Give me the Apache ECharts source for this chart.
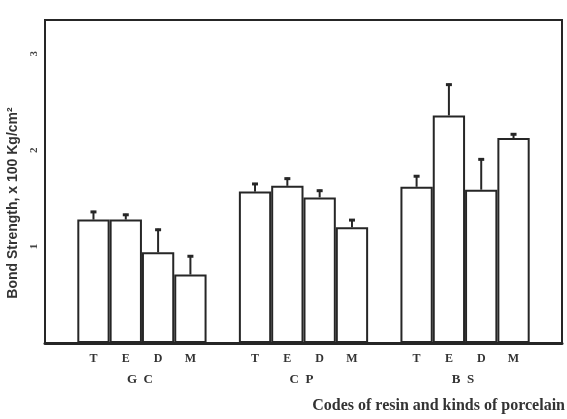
<!DOCTYPE html>
<html>
<head>
<meta charset="utf-8">
<script src="https://cdn.jsdelivr.net/npm/echarts@6/dist/echarts.min.js"></script>
<style>
  html, body { margin: 0; padding: 0; background: #fff; }
  #main { width: 567px; height: 419px; }
</style>
</head>
<body>
<div id="main"></div>
<script>
// resin codes and porcelain groups
const codes = ['T', 'E', 'D', 'M'];
const groups = ['G  C', 'C  P', 'B  S'];

// bond strength, x 100 Kg/cm2 (mean and upper error)
const gcMeans = [1.28, 1.28, 0.94, 0.71];
const gcErrors = [0.09, 0.06, 0.245, 0.2];
const cpMeans = [1.57, 1.63, 1.51, 1.2];
const cpErrors = [0.09, 0.085, 0.08, 0.085];
const bsMeans = [1.62, 2.36, 1.59, 2.125];
const bsErrors = [0.12, 0.33, 0.325, 0.05];

const yTicks = [1, 2, 3];
const yMax = 3.35;

const xName = 'Codes of resin and kinds of porcelain';
const yName = 'Bond Strength, x 100 Kg/cm\u00B2';

// one empty slot before, between and after the groups
const means = [gcMeans, cpMeans, bsMeans];
const errors = [gcErrors, cpErrors, bsErrors];
const slots = [''];
const barData = [null];
const errData = [];
means.forEach((g, gi) => {
  g.forEach((v, i) => {
    errData.push([slots.length, v, v + errors[gi][i]]);
    slots.push(codes[i]);
    barData.push(v);
  });
  slots.push('');
  barData.push(null);
});

const ink = '#262626';
const chart = echarts.init(document.getElementById('main'));

chart.setOption({
  animation: false,
  backgroundColor: '#fff',
  grid: {
    left: 45, right: 5, top: 20, bottom: 76,
    show: true, borderColor: ink, borderWidth: 2
  },
  xAxis: {
    type: 'category',
    data: slots,
    axisLine: { lineStyle: { color: ink, width: 3 } },
    axisTick: { show: false },
    axisLabel: {
      interval: 0, margin: 10, color: '#333',
      fontFamily: 'Liberation Serif', fontWeight: 'bold', fontSize: 12
    }
  },
  yAxis: {
    type: 'value',
    min: 0, max: yMax, interval: 1,
    splitLine: { show: false },
    axisTick: { show: false },
    axisLine: { show: true, lineStyle: { color: ink, width: 2 } },
    axisLabel: {
      rotate: 90, margin: 5, color: '#444',
      fontFamily: 'Liberation Serif', fontWeight: 'bold', fontSize: 11,
      formatter: v => yTicks.includes(v) ? String(v) : ''
    }
  },
  series: [
    {
      type: 'bar',
      data: barData,
      barCategoryGap: 0,
      itemStyle: { color: '#fff', borderColor: ink, borderWidth: 2 }
    },
    {
      type: 'custom',
      data: errData,
      z: 5,
      renderItem: (params, api) => {
        const base = api.coord([api.value(0), api.value(1)]);
        const top = api.coord([api.value(0), api.value(2)]);
        return {
          type: 'group',
          children: [
            { type: 'line', shape: { x1: base[0], y1: base[1], x2: top[0], y2: top[1] },
              style: { stroke: ink, lineWidth: 2 } },
            { type: 'line', shape: { x1: top[0] - 3, y1: top[1] + 1, x2: top[0] + 3, y2: top[1] + 1 },
              style: { stroke: ink, lineWidth: 3 } }
          ]
        };
      }
    }
  ]
});

// group labels under each block of four bars, axis names
const groupTexts = groups.map((g, gi) => {
  const a = chart.convertToPixel({ xAxisIndex: 0 }, 1 + gi * 5);
  const b = chart.convertToPixel({ xAxisIndex: 0 }, 4 + gi * 5);
  return {
    type: 'text', x: (a + b) / 2 - 2, y: 380,
    style: {
      text: g, textAlign: 'center', textVerticalAlign: 'middle',
      fill: '#333', font: 'bold 13px "Liberation Serif"'
    }
  };
});

chart.setOption({
  graphic: groupTexts.concat([
    {
      type: 'text', x: 565, y: 406,
      style: {
        text: xName, textAlign: 'right', textVerticalAlign: 'middle',
        fill: '#333', font: 'bold 16px "Liberation Serif"'
      }
    },
    {
      type: 'text', x: 13, y: 203, rotation: Math.PI / 2,
      style: {
        text: yName, textAlign: 'center', textVerticalAlign: 'middle',
        fill: '#333', font: 'bold 14px "Liberation Sans"'
      }
    }
  ])
});
</script>
</body>
</html>
